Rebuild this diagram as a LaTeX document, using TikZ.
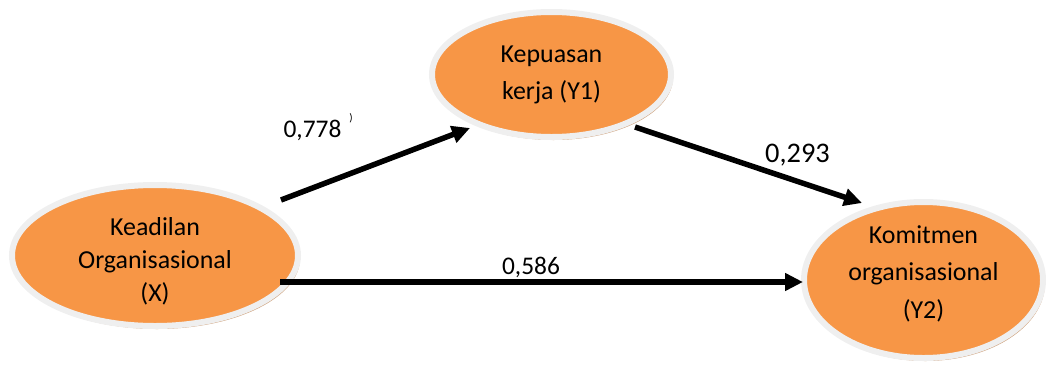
\documentclass[tikz,border=0pt]{standalone}
\usepackage{fontspec}
\setmainfont{Carlito}
\usetikzlibrary{arrows.meta,shapes.geometric,shadows}
\definecolor{varorange}{HTML}{F79646}
\definecolor{ringgray}{HTML}{EFEFEF}
\definecolor{shadowbrown}{HTML}{D0A582}
\tikzset{
  varnode/.style={ellipse, inner sep=0pt, fill=varorange, draw=ringgray, line width=6bp,
    align=center, text=black,
    drop shadow={shadow xshift=2bp, shadow yshift=-3bp, fill=shadowbrown, opacity=1}},
  patharrow/.style={line width=5.5bp, -{Triangle[length=18bp,width=17bp]}},
  coef/.style={anchor=base, inner sep=0pt, font=\fontsize{25.5}{30}\selectfont}
}
\begin{document}
\begin{tikzpicture}[x=1bp,y=-1bp]
\useasboundingbox (0,0) rectangle (1046,365);
\node[varnode, minimum width=286bp, minimum height=141bp, font=\fontsize{26}{33}\selectfont] (X) at (155,255.5) {\rule{0pt}{30bp}Keadilan\\Organisasional\\(X)};
\node[varnode, minimum width=239bp, minimum height=125bp, font=\fontsize{26}{37}\selectfont] (Y1) at (551.5,74.5) {Kepuasan\\kerja (Y1)};
\node[varnode, minimum width=239bp, minimum height=156bp, font=\fontsize{26}{38}\selectfont] (Y2) at (923.5,280) {Komitmen\\organisasional\\(Y2)\rule[-16bp]{0pt}{0pt}};
\coordinate (s1) at (281,200);
\coordinate (t1) at (470,128);
\coordinate (s2) at (635,127);
\coordinate (t2) at (862,203);
\coordinate (s3) at (280,282);
\coordinate (t3) at (803,282);
\draw[patharrow] (s1) -- (t1);
\draw[patharrow] (s2) -- (t2);
\draw[patharrow] (s3) -- (t3);
\node[coef] (c1) at (312.5,137) {0,778};
\node[anchor=base, inner sep=0pt, font=\fontsize{11}{12}\selectfont] (c1p) at (351,121) {)};
\node[coef] (c3) at (531,274) {0,586};
\node[coef, font=\fontsize{28.5}{32}\selectfont] (c2) at (797.5,162) {0,293};
\end{tikzpicture}
\end{document}
